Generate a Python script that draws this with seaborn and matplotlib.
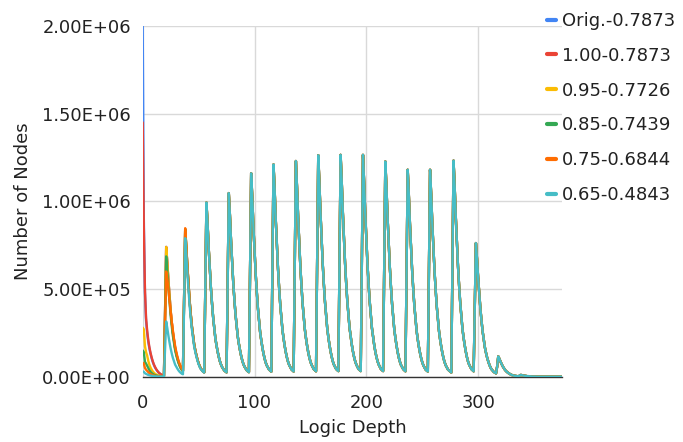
import numpy as np
import pandas as pd
import matplotlib
matplotlib.use("Agg")
import matplotlib.pyplot as plt
from matplotlib.ticker import FuncFormatter
import seaborn as sns

# series names and colours (legend order = draw order, last one on top)
series_names = ["Orig.-0.7873", "1.00-0.7873", "0.95-0.7726",
                "0.85-0.7439", "0.75-0.6844", "0.65-0.4843"]
series_colors = ["#4285F4", "#EA4335", "#FBBC04", "#34A853", "#FF6D01", "#46BDC6"]

# node counts in thousands
# depth 0..19 (first decay)
start_orig = [2000, 900, 480, 320, 250, 198, 160, 130, 105, 84, 67, 53, 42, 33, 25, 19, 14, 10, 7, 5]
start_100 = [1450, 850, 500, 335, 262, 208, 168, 136, 110, 88, 70, 56, 44, 34, 26, 20, 15, 11, 8, 6]
start_095 = [280, 270, 175, 140, 120, 90, 68, 52, 40, 30, 23, 17, 13, 10, 7, 5, 4, 3, 2, 2]
start_085 = [150, 140, 85, 75, 62, 48, 37, 28, 21, 16, 12, 9, 7, 5, 4, 3, 2, 2, 1, 1]
start_075 = [80, 75, 50, 40, 33, 26, 20, 15, 12, 9, 7, 5, 4, 3, 2, 2, 1, 1, 1, 1]
start_065 = [30, 28, 20, 16, 13, 10, 8, 6, 5, 4, 3, 2, 2, 1, 1, 1, 1, 1, 1, 1]

# depth 20..38 (first spike + rise of second)
spike1_top = [370, 740, 651, 548, 459, 377, 311, 252, 207, 163, 133, 107, 85, 67, 52, 41, 33, 420, 840]
spike1_085 = [343, 686, 604, 508, 425, 350, 288, 233, 192, 151, 123, 99, 79, 62, 48, 38, 31, 420, 840]
spike1_075 = [300, 600, 560, 500, 430, 370, 310, 260, 215, 175, 143, 115, 92, 73, 57, 45, 36, 423, 847]
spike1_065 = [158, 315, 277, 233, 195, 161, 132, 107, 88, 69, 57, 46, 36, 28, 22, 17, 14, 395, 790]

# depth 39..56
decay2_common = [739, 622, 521, 428, 353, 286, 235, 185, 151, 122, 97, 76, 59, 46, 38, 29, 25, 497]
decay2_075 = [745, 627, 525, 432, 356, 288, 237, 186, 152, 123, 97, 76, 59, 47, 38, 30, 25, 497]
decay2_065 = [695, 585, 490, 403, 332, 269, 221, 174, 142, 115, 91, 71, 55, 43, 36, 28, 24, 497]

# depth 57..375, identical for all settings
tail_common = (
    [993, 874, 735, 616, 506, 417, 338, 278, 218, 179, 144, 114, 89, 70, 55, 45, 35, 30, 25, 524]
    + [1047, 921, 775, 649, 534, 440, 356, 293, 230, 188, 152, 120, 94, 73, 58, 47, 37, 31, 26, 580]
    + [1160, 1021, 858, 719, 592, 487, 394, 325, 255, 209, 168, 133, 104, 81, 64, 52, 41, 35, 29, 605]
    + [1210, 1065, 895, 750, 617, 508, 411, 339, 266, 218, 175, 139, 109, 85, 67, 54, 42, 36, 30, 615]
    + [1230, 1082, 910, 763, 627, 517, 418, 344, 271, 221, 178, 141, 111, 86, 68, 55, 43, 37, 31, 632]
    + [1263, 1111, 935, 783, 644, 530, 429, 354, 278, 227, 183, 145, 114, 88, 69, 57, 44, 38, 32, 633]
    + [1265, 1113, 936, 784, 645, 531, 430, 354, 278, 228, 183, 145, 114, 89, 70, 57, 44, 38, 32, 633]
    + [1265, 1113, 936, 784, 645, 531, 430, 354, 278, 228, 183, 145, 114, 89, 70, 57, 44, 38, 32, 614]
    + [1227, 1080, 908, 761, 626, 515, 417, 344, 270, 221, 178, 141, 110, 86, 67, 55, 43, 37, 31, 590]
    + [1180, 1038, 873, 732, 602, 496, 401, 330, 260, 212, 171, 136, 106, 83, 65, 53, 41, 35, 30, 590]
    + [1180, 1038, 873, 732, 602, 496, 401, 330, 260, 212, 171, 136, 106, 83, 65, 53, 41, 35, 30, 24, 616]
    + [1232, 1084, 912, 764, 628, 517, 419, 345, 271, 222, 179, 142, 111, 86, 68, 55, 43, 37, 31, 381]
    + [762, 671, 564, 472, 389, 320, 259, 213, 168, 137, 110, 88, 69, 53, 42, 34, 27, 23, 19, 58]
    + [116, 102, 86, 72, 59, 49, 39, 32, 26, 21, 17, 13, 10, 8, 6, 5, 4, 3, 3, 5]
    + [10, 9, 7, 6, 5, 4, 3, 3, 2, 2, 1, 1, 1, 1]
    + [0] * 24
)

heads = [
    start_orig + spike1_top + decay2_common,
    start_100 + spike1_top + decay2_common,
    start_095 + spike1_top + decay2_common,
    start_085 + spike1_085 + decay2_common,
    start_075 + spike1_075 + decay2_075,
    start_065 + spike1_065 + decay2_065,
]

rows = []
for name, head in zip(series_names, heads):
    vals = head + tail_common
    for d, v in enumerate(vals):
        rows.append({"depth": d, "nodes": v * 1000, "setting": name})
df = pd.DataFrame(rows)

sns.set_style("white")
plt.rcParams["font.family"] = ["DejaVu Sans"]

fig = plt.figure(figsize=(6.83, 4.42), dpi=100)
ax = fig.add_axes([142.7 / 683, 1 - 376.7 / 442, (562 - 142.7) / 683, 350.7 / 442])

sns.lineplot(data=df, x="depth", y="nodes", hue="setting", hue_order=series_names,
             palette=series_colors, estimator=None, errorbar=None, linewidth=1.7, ax=ax)

ax.set_xlim(0, 375)
ax.set_ylim(0, 2.0e6)
ax.set_xticks([0, 100, 200, 300])
ax.set_yticks([0, 0.5e6, 1.0e6, 1.5e6, 2.0e6])
ax.yaxis.set_major_formatter(FuncFormatter(lambda v, p: f"{v:.2E}"))
ax.grid(True, color="#d9d9d9", linewidth=1)
ax.set_axisbelow(True)
for s in ["left", "right", "top"]:
    ax.spines[s].set_visible(False)
ax.spines["bottom"].set_color("#333333")
ax.spines["bottom"].set_linewidth(1)
ax.spines["bottom"].set_zorder(1)

ax.tick_params(axis="both", length=0, labelsize=12.9, colors="#222222")
ax.tick_params(axis="y", pad=8.5)
ax.tick_params(axis="x", pad=12.5)
ax.set_xlabel("Logic Depth", fontsize=13, color="#222222", labelpad=5)
ax.set_ylabel("Number of Nodes", fontsize=13, color="#222222", labelpad=7)

handles, labels = ax.get_legend_handles_labels()
ax.legend_.remove()
leg = fig.legend(handles, labels, loc="upper left", bbox_to_anchor=(546.5 / 683, 1 - 12 / 442),
                 frameon=False, fontsize=13, handlelength=0.5, handletextpad=0.37,
                 labelspacing=0.93, borderpad=0, borderaxespad=0)
for line in leg.get_lines():
    line.set_linewidth(3)
for t in leg.get_texts():
    t.set_color("#222222")

fig.savefig("out.png", dpi=100)
